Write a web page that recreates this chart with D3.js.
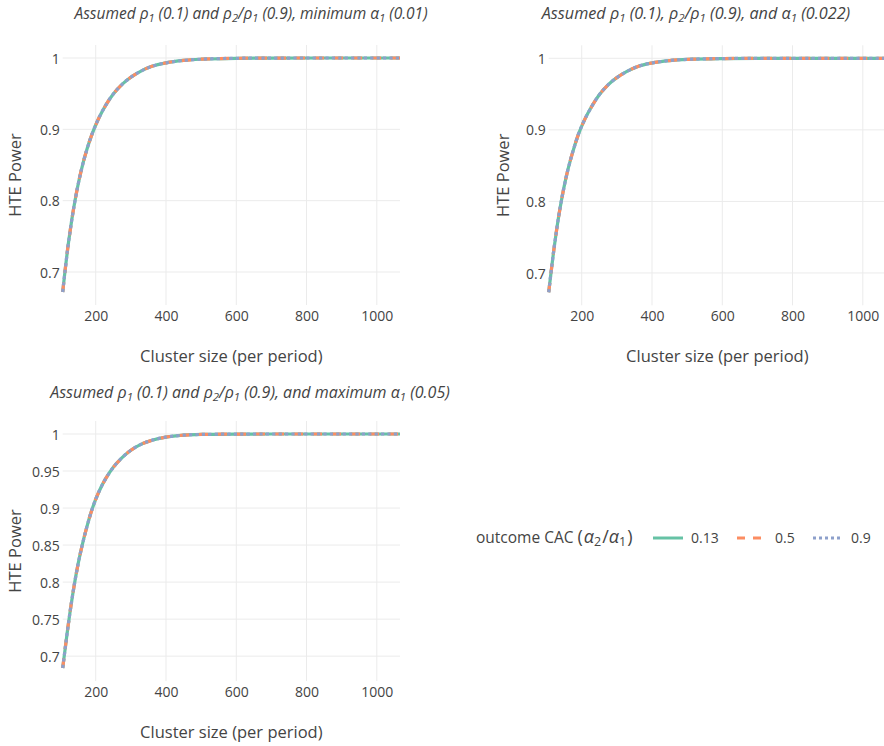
<!DOCTYPE html>
<html><head><meta charset="utf-8">
<script src="https://cdn.jsdelivr.net/npm/d3@7"></script>
<style>
html,body{margin:0;padding:0;background:#fff;}
text{font-family:"Open Sans","DejaVu Sans",sans-serif;}
</style></head>
<body><div id="chart"></div>
<script>
// ---- data ----
const clusterSize = [106,113,120,127,134,141,150,160,175,190,210,230,250,275,300,330,360,400,450,500,600,700,850,1066];
const cacLevels = ["0.13","0.5","0.9"];
const xTicks = [200,400,600,800,1000];
const yTicksTop = [0.7,0.8,0.9,1];
const yTicksBottom = [0.7,0.75,0.8,0.85,0.9,0.95,1];

// panel 1: minimum alpha1 (0.01)
const powerMin_cac013 = [0.672,0.703,0.732,0.757,0.780,0.800,0.823,0.845,0.872,0.894,0.917,0.935,0.9495,0.963,0.973,0.982,0.9883,0.9932,0.9966,0.9983,0.9996,0.9999,1,1];
const powerMin_cac05  = [0.672,0.703,0.732,0.757,0.780,0.800,0.823,0.845,0.872,0.894,0.917,0.935,0.9495,0.963,0.973,0.982,0.9883,0.9932,0.9966,0.9983,0.9996,0.9999,1,1];
const powerMin_cac09  = [0.672,0.703,0.732,0.757,0.780,0.800,0.823,0.845,0.872,0.894,0.917,0.935,0.9495,0.963,0.973,0.982,0.9883,0.9932,0.9966,0.9983,0.9996,0.9999,1,1];
// panel 2: alpha1 (0.022)
const powerMid_cac013 = [0.673,0.702,0.730,0.755,0.778,0.798,0.821,0.843,0.870,0.893,0.916,0.934,0.949,0.963,0.973,0.982,0.9886,0.9935,0.9968,0.9985,0.9996,0.9999,1,1];
const powerMid_cac05  = [0.673,0.702,0.730,0.755,0.778,0.798,0.821,0.843,0.870,0.893,0.916,0.934,0.949,0.963,0.973,0.982,0.9886,0.9935,0.9968,0.9985,0.9996,0.9999,1,1];
const powerMid_cac09  = [0.673,0.702,0.730,0.755,0.778,0.798,0.821,0.843,0.870,0.893,0.916,0.934,0.949,0.963,0.973,0.982,0.9886,0.9935,0.9968,0.9985,0.9996,0.9999,1,1];
// panel 3: maximum alpha1 (0.05)
const powerMax_cac013 = [0.684,0.710,0.736,0.760,0.782,0.802,0.825,0.847,0.875,0.899,0.923,0.941,0.955,0.968,0.978,0.9863,0.9915,0.9958,0.9984,0.9994,0.9999,1,1,1];
const powerMax_cac05  = [0.684,0.710,0.736,0.760,0.782,0.802,0.825,0.847,0.875,0.899,0.923,0.941,0.955,0.968,0.978,0.9863,0.9915,0.9958,0.9984,0.9994,0.9999,1,1,1];
const powerMax_cac09  = [0.684,0.710,0.736,0.760,0.782,0.802,0.825,0.847,0.875,0.899,0.923,0.941,0.955,0.968,0.978,0.9863,0.9915,0.9958,0.9984,0.9994,0.9999,1,1,1];

// ---- styles ----
const colors = ["#66c2a5","#fc8d62","#8da0cb"];
const dashes = [null,"9.5,9.5","3.2,3.2"];
const W = 884, H = 746;

const svg = d3.select("#chart").append("svg").attr("width",W).attr("height",H)
  .style("background","#fff");

// title parts: [text, isSub]
const titles = [
  [["Assumed ",0],["ρ",0],["1",1],[" (0.1) and ",0],["ρ",0],["2",1],["/",0],["ρ",0],["1",1],[" (0.9), minimum ",0],["α",0],["1",1],[" (0.01)",0]],
  [["Assumed ",0],["ρ",0],["1",1],[" (0.1), ",0],["ρ",0],["2",1],["/",0],["ρ",0],["1",1],[" (0.9), and ",0],["α",0],["1",1],[" (0.022)",0]],
  [["Assumed ",0],["ρ",0],["1",1],[" (0.1) and ",0],["ρ",0],["2",1],["/",0],["ρ",0],["1",1],[" (0.9), and maximum ",0],["α",0],["1",1],[" (0.05)",0]]
];

const panels = [
  {series:[powerMin_cac013,powerMin_cac05,powerMin_cac09], yTicks:yTicksTop, left:62.7, right:400, top:45, bottom:305, title:titles[0], tx:251, ty:19, ytx:15, tfs:15.5},
  {series:[powerMid_cac013,powerMid_cac05,powerMid_cac09], yTicks:yTicksTop, left:548.7, right:886, top:45.3, bottom:305.3, title:titles[1], tx:696, ty:19, ytx:503, tfs:16.2},
  {series:[powerMax_cac013,powerMax_cac05,powerMax_cac09], yTicks:yTicksBottom, left:62.7, right:400, top:421, bottom:681, title:titles[2], tx:250, ty:398, ytx:15, tfs:16}
];

function fmt(v){ return String(+v.toFixed(2)); }

panels.forEach((p,pi)=>{
  const g = svg.append("g");
  const x = d3.scaleLinear().domain(d3.extent(clusterSize)).range([p.left,p.right]);
  const all = p.series.flat();
  const lo = d3.min(all), hi = d3.max(all);
  const pad = (hi-lo)*0.05/0.9;
  const y = d3.scaleLinear().domain([lo-pad, hi+pad]).range([p.bottom,p.top]);

  // grid
  g.selectAll(".vg").data(xTicks).join("line")
    .attr("x1",d=>x(d)).attr("x2",d=>x(d)).attr("y1",p.top).attr("y2",p.bottom)
    .attr("stroke","#ebebeb").attr("stroke-width",1);
  g.selectAll(".hg").data(p.yTicks).join("line")
    .attr("x1",p.left).attr("x2",p.right).attr("y1",d=>y(d)).attr("y2",d=>y(d))
    .attr("stroke","#ebebeb").attr("stroke-width",1);

  // axes (labels only)
  const xa = g.append("g").attr("transform",`translate(0,${p.bottom})`)
    .call(d3.axisBottom(x).tickValues(xTicks).tickSize(0).tickPadding(16).tickFormat(d3.format("d")));
  xa.select(".domain").remove();
  xa.selectAll("text").attr("font-size",14).attr("fill","#444").attr("font-family","'Open Sans',sans-serif").attr("dy","0");
  const ya = g.append("g").attr("transform",`translate(${p.left},0)`)
    .call(d3.axisLeft(y).tickValues(p.yTicks).tickSize(0).tickPadding(3).tickFormat(fmt));
  ya.select(".domain").remove();
  ya.selectAll("text").attr("font-size",14).attr("fill","#444").attr("font-family","'Open Sans',sans-serif").attr("dy","0.36em");

  // lines
  const line = d3.line().x((d,i)=>x(clusterSize[i])).y(d=>y(d)).curve(d3.curveMonotoneX);
  p.series.forEach((s,si)=>{
    g.append("path").datum(s).attr("d",line).attr("fill","none")
      .attr("stroke",colors[si]).attr("stroke-width",3.2)
      .attr("stroke-dasharray",dashes[si]).attr("stroke-linejoin","round");
  });

  // axis titles
  g.append("text").attr("x",(p.left+p.right)/2).attr("y",p.bottom+57)
    .attr("text-anchor","middle").attr("font-size",16.5).attr("fill","#444")
    .text("Cluster size (per period)");
  g.append("text").attr("transform",`translate(${p.ytx},${(p.top+p.bottom)/2}) rotate(-90)`)
    .attr("text-anchor","middle").attr("dy","0.35em").attr("font-size",16.5).attr("fill","#444")
    .text("HTE Power");

  // title
  const t = g.append("text").attr("x",p.tx).attr("y",p.ty).attr("text-anchor","middle")
    .attr("font-size",p.tfs).attr("font-style","italic").attr("fill","#444");
  p.title.forEach(([s,sub],k)=>{
    const ts = t.append("tspan").text(s);
    if(sub) ts.attr("font-size",p.tfs*0.71).attr("dy",3);
    else if(k>0 && p.title[k-1][1]) ts.attr("dy",-3);
  });
});

// legend
const lg = svg.append("g");
const lt = lg.append("text").attr("x",476).attr("y",543).attr("font-size",15.5).attr("fill","#444");
lt.append("tspan").text("outcome CAC ");
lt.append("tspan").text("(").attr("font-size",18);
lt.append("tspan").text("α").attr("font-style","italic").attr("font-size",18).attr("dx",1);
lt.append("tspan").text("2").attr("font-size",12.5).attr("dy",3);
lt.append("tspan").text("/").attr("dy",-3).attr("font-size",18).attr("dx",1);
lt.append("tspan").text("α").attr("font-style","italic").attr("font-size",18);
lt.append("tspan").text("1").attr("font-size",12.5).attr("dy",3);
lt.append("tspan").text(")").attr("dy",-3).attr("font-size",18).attr("dx",1);

const legendX = [653,737,813];
cacLevels.forEach((c,i)=>{
  lg.append("line").attr("x1",legendX[i]).attr("x2",legendX[i]+30).attr("y1",538).attr("y2",538)
    .attr("stroke",colors[i]).attr("stroke-width",3)
    .attr("stroke-dasharray",i===1?"8,8":(i===2?"3,3":null));
  lg.append("text").attr("x",legendX[i]+38).attr("y",543).attr("font-size",14).attr("fill","#444").text(c);
});
</script></body></html>
